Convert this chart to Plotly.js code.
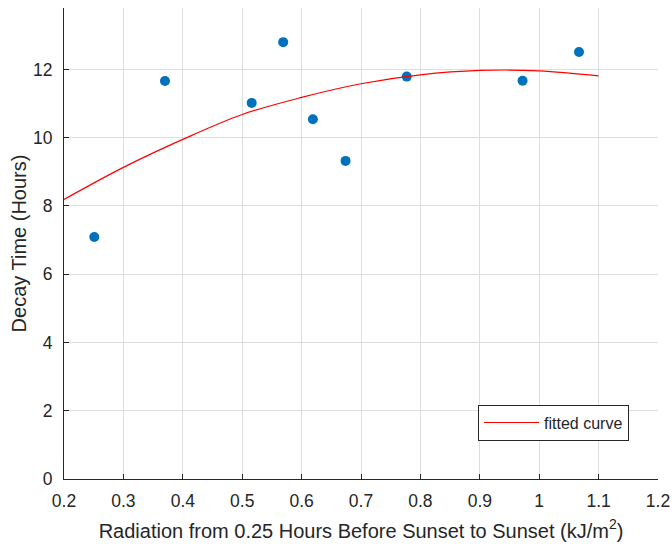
<!DOCTYPE html>
<html>
<head>
<meta charset="utf-8">
<script src="https://cdn.plot.ly/plotly-3.0.1.min.js"></script>
<style>html,body{margin:0;padding:0;background:#fff;}#chart{width:672px;height:544px;}</style>
</head>
<body>
<div id="chart"></div>
<script>
// Observed data points
var radiation = [0.251, 0.370, 0.516, 0.569, 0.619, 0.674, 0.777, 0.972, 1.067];
var decayTime = [7.09, 11.66, 11.02, 12.80, 10.54, 9.32, 11.79, 11.67, 12.51];

// Fitted curve
var fitX = [0.2, 0.3, 0.4, 0.5, 0.6, 0.7, 0.8, 0.9, 1.0, 1.1];
var fitY = [8.19, 9.13, 9.95, 10.68, 11.18, 11.58, 11.84, 11.97, 11.96, 11.81];

var xTicks = [0.2, 0.3, 0.4, 0.5, 0.6, 0.7, 0.8, 0.9, 1.0, 1.1, 1.2];
var xTickText = ['0.2', '0.3', '0.4', '0.5', '0.6', '0.7', '0.8', '0.9', '1', '1.1', '1.2'];
var yTicks = [0, 2, 4, 6, 8, 10, 12];

var traces = [
  {
    x: radiation, y: decayTime, type: 'scatter', mode: 'markers',
    marker: {color: '#0072BD', size: 10, symbol: 'circle'},
    showlegend: false, hoverinfo: 'x+y'
  },
  {
    x: fitX, y: fitY, type: 'scatter', mode: 'lines', name: 'fitted curve',
    line: {color: '#FF0000', width: 1.2, shape: 'spline'}
  }
];

var FONT = 'Liberation Sans, Arial, sans-serif';
var axisCommon = {
  showgrid: true, gridcolor: '#dedede', gridwidth: 1,
  zeroline: false, showline: true, linecolor: '#262626', linewidth: 1,
  ticks: 'inside', ticklen: 5, tickcolor: '#262626', tickwidth: 1,
  tickfont: {family: FONT, size: 17.5, color: '#262626'},
  mirror: false
};

var layout = {
  width: 672, height: 544,
  margin: {l: 64, r: 14, t: 8, b: 65},
  paper_bgcolor: '#ffffff', plot_bgcolor: '#ffffff',
  font: {family: FONT, color: '#262626'},
  xaxis: Object.assign({}, axisCommon, {
    range: [0.2, 1.2], tickvals: xTicks, ticktext: xTickText,
    ticklabelstandoff: 6,
    title: {text: 'Radiation from 0.25 Hours Before Sunset to Sunset (kJ/m<sup>2</sup>)',
            font: {size: 20, color: '#262626'}, standoff: 13}
  }),
  yaxis: Object.assign({}, axisCommon, {
    range: [0, 13.8], tickvals: yTicks,
    ticklabelstandoff: 7,
    title: {text: 'Decay Time (Hours)', font: {size: 20, color: '#262626'}, standoff: 1}
  }),
  legend: {
    x: 0.697, y: 0.158, xanchor: 'left', yanchor: 'top',
    bgcolor: '#ffffff', bordercolor: '#262626', borderwidth: 1,
    itemwidth: 55,
    font: {size: 16, color: '#262626'}
  },
  showlegend: true
};

Plotly.newPlot('chart', traces, layout, {displayModeBar: false, staticPlot: true});
</script>
</body>
</html>
